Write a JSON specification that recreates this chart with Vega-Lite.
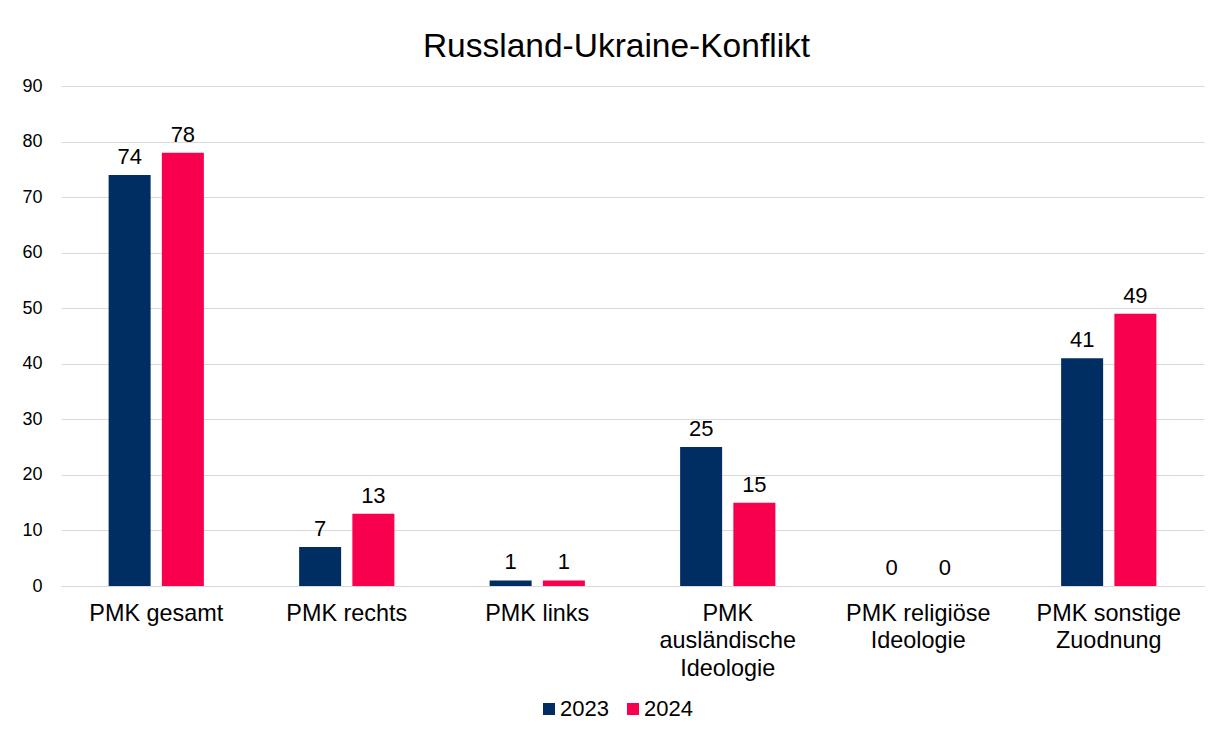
{
  "$schema": "https://vega.github.io/schema/vega-lite/v6.json",
  "width": 1143,
  "height": 500,
  "autosize": {"type": "none"},
  "padding": {"left": 61, "top": 86, "right": 7, "bottom": 143},
  "background": "white",
  "config": {
    "font": "Liberation Sans",
    "view": {"stroke": null}
  },
  "title": {
    "text": "Russland-Ukraine-Konflikt",
    "fontSize": 33.5,
    "fontWeight": "normal",
    "font": "Liberation Sans",
    "color": "#000000",
    "anchor": "middle",
    "dx": -16,
    "offset": 13
  },
  "data": {
    "values": [
      {"kategorie": "PMK gesamt", "jahr": "2023", "wert": 74},
      {"kategorie": "PMK gesamt", "jahr": "2024", "wert": 78},
      {"kategorie": "PMK rechts", "jahr": "2023", "wert": 7},
      {"kategorie": "PMK rechts", "jahr": "2024", "wert": 13},
      {"kategorie": "PMK links", "jahr": "2023", "wert": 1},
      {"kategorie": "PMK links", "jahr": "2024", "wert": 1},
      {"kategorie": "PMK ausländische Ideologie", "jahr": "2023", "wert": 25},
      {"kategorie": "PMK ausländische Ideologie", "jahr": "2024", "wert": 15},
      {"kategorie": "PMK religiöse Ideologie", "jahr": "2023", "wert": 0},
      {"kategorie": "PMK religiöse Ideologie", "jahr": "2024", "wert": 0},
      {"kategorie": "PMK sonstige Zuodnung", "jahr": "2023", "wert": 41},
      {"kategorie": "PMK sonstige Zuodnung", "jahr": "2024", "wert": 49}
    ]
  },
  "encoding": {
    "x": {
      "field": "kategorie",
      "type": "nominal",
      "sort": null,
      "scale": {"paddingInner": 0.5, "paddingOuter": 0.25},
      "axis": {
        "title": null,
        "labelAngle": 0,
        "labelFontSize": 23.4,
        "labelColor": "#000000",
        "labelPadding": 16,
        "labelBaseline": "top",
        "labelLineHeight": 27.5,
        "labelLimit": 300,
        "ticks": false,
        "domainColor": "#D9D9D9",
        "domainWidth": 1,
        "labelExpr": "datum.value == 'PMK ausländische Ideologie' ? ['PMK', 'ausländische', 'Ideologie'] : datum.value == 'PMK religiöse Ideologie' ? ['PMK religiöse', 'Ideologie'] : datum.value == 'PMK sonstige Zuodnung' ? ['PMK sonstige', 'Zuodnung'] : datum.value"
      }
    },
    "xOffset": {
      "field": "jahr",
      "type": "nominal",
      "scale": {"paddingInner": 0.211, "paddingOuter": 0}
    },
    "y": {
      "field": "wert",
      "type": "quantitative",
      "scale": {"domain": [0, 90], "nice": false},
      "axis": {
        "title": null,
        "values": [0, 10, 20, 30, 40, 50, 60, 70, 80, 90],
        "labelFontSize": 18,
        "labelColor": "#000000",
        "labelPadding": 19,
        "ticks": false,
        "domain": false,
        "gridColor": "#D9D9D9",
        "gridWidth": 1
      }
    }
  },
  "layer": [
    {
      "mark": {"type": "bar"},
      "encoding": {
        "color": {
          "field": "jahr",
          "type": "nominal",
          "scale": {"domain": ["2023", "2024"], "range": ["#002D62", "#F8004E"]},
          "legend": {
            "title": null,
            "orient": "none",
            "direction": "horizontal",
            "legendX": 477,
            "legendY": 612,
            "symbolType": "square",
            "symbolSize": 144,
            "symbolStrokeWidth": 0,
            "labelFontSize": 22,
            "labelColor": "#000000",
            "labelOffset": 0,
            "columnPadding": 13
          }
        }
      }
    },
    {
      "mark": {"type": "text", "baseline": "alphabetic", "dy": -11, "fontSize": 22, "color": "#000000"},
      "encoding": {
        "text": {"field": "wert", "type": "quantitative"}
      }
    }
  ]
}
